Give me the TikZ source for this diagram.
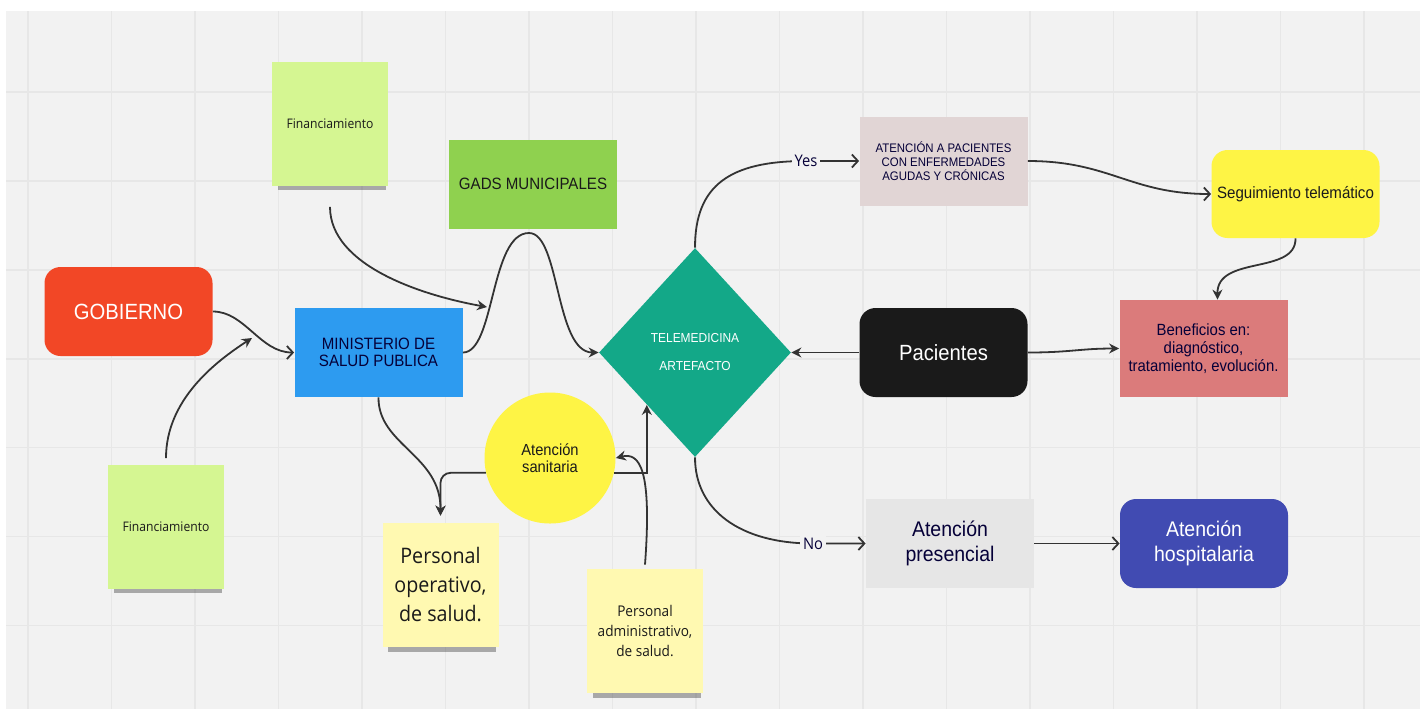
\documentclass[tikz,border=0pt]{standalone}
\usepackage{fontspec}
\setmainfont{Liberation Sans}[FakeStretch=0.92]
\newfontfamily\notefont{Open Sans}[FakeStretch=0.92]
\usetikzlibrary{shapes.geometric, arrows.meta, shadows, calc}

\definecolor{boardbg}{HTML}{F2F2F2}
\definecolor{gridgray}{HTML}{E7E7E7}
\definecolor{notegreen}{HTML}{D5F692}
\definecolor{noteyellow}{HTML}{FFF9B1}
\definecolor{gadsgreen}{HTML}{8FD14F}
\definecolor{gobred}{HTML}{F24726}
\definecolor{mspblue}{HTML}{2D9BF0}
\definecolor{teleteal}{HTML}{13A888}
\definecolor{agudaspink}{HTML}{E1D5D5}
\definecolor{brightyellow}{HTML}{FEF445}
\definecolor{pacblack}{HTML}{1A1A1A}
\definecolor{benefred}{HTML}{DB7B7B}
\definecolor{presgray}{HTML}{E6E6E6}
\definecolor{hospblue}{HTML}{414BB2}
\definecolor{inkblue}{HTML}{050038}
\definecolor{notetext}{HTML}{1A1A1A}
\definecolor{linegray}{HTML}{333333}

\begin{document}
\begin{tikzpicture}[x=0.5pt, y=-0.5pt,
    box/.style={rectangle, minimum width=84pt, minimum height=44.5pt, inner sep=2pt, align=center, text=inkblue},
    roundbox/.style={box, rounded corners=8pt},
    note/.style={rectangle, minimum width=58pt, minimum height=62pt, inner sep=2pt, align=center, text=notetext,
        drop shadow={shadow xshift=1pt, shadow yshift=-5pt, shadow scale=0.93, opacity=0.3, fill=black}},
    gridline/.style={draw=gridgray, line width=0.8pt},
    link/.style={draw=linegray, line width=0.9pt, -{Stealth[length=5pt, width=5pt]}},
    openlink/.style={draw=linegray, line width=0.9pt, -{Straight Barb[length=3pt, width=6.5pt]}},
    lbl/.style={fill=boardbg, inner sep=1.5pt, text=inkblue, font=\notefont\fontsize{8}{9}\selectfont}]

    \useasboundingbox (0,0) rectangle (1428,709);
    % board
    \fill [white] (0,0) rectangle (1428,709);
    \fill [boardbg] (6,11) rectangle (1420,709);
    \foreach \gx in {0,...,16}
        \draw [gridline] ({28+83.5*\gx},11) -- ({28+83.5*\gx},709);
    \foreach \gy in {0,...,6}
        \draw [gridline] (6,{92+88.9*\gy}) -- (1420,{92+88.9*\gy});

    % left side
    \node (fintop) [note, fill=notegreen, font=\notefont\fontsize{6.6}{8}\selectfont] at (330,123.5) {Financiamiento};
    \node (finbot) [note, fill=notegreen, font=\notefont\fontsize{6.6}{8}\selectfont] at (166,526.5) {Financiamiento};
    \node (gob) [roundbox, fill=gobred, text=white, font=\fontsize{11}{13}\selectfont] at (128.5,311.5) {GOBIERNO};
    \node (msp) [box, fill=mspblue, font=\fontsize{8.2}{8.8}\selectfont] at (378.5,352.5) {MINISTERIO DE\\SALUD PUBLICA};
    \node (gads) [box, fill=gadsgreen, text=notetext, font=\fontsize{8.2}{9}\selectfont] at (533,184) {GADS MUNICIPALES};
    \node (sanit) [circle, fill=brightyellow, minimum size=65.5pt, inner sep=0pt, align=center, text=notetext, font=\fontsize{8}{8.7}\selectfont] at (550,458) {Atención\\sanitaria};
    \node (peroper) [note, fill=noteyellow, font=\notefont\fontsize{10.7}{14.5}\selectfont] at (440.5,585) {Personal\\operativo,\\de salud.};
    \node (peradm) [note, fill=noteyellow, font=\notefont\fontsize{7.4}{10}\selectfont] at (645,631) {Personal\\administrativo,\\de salud.};

    % centre
    \node (tele) [diamond, fill=teleteal, minimum width=96pt, minimum height=104.5pt, inner sep=0pt, align=center, text=white, font=\fontsize{6.5}{14}\selectfont] at (695,352.5) {TELEMEDICINA\\ARTEFACTO};

    % right side
    \node (agudas) [box, fill=agudaspink, font=\fontsize{6.2}{6.9}\selectfont] at (943.5,161) {ATENCIÓN A PACIENTES\\CON ENFERMEDADES\\AGUDAS Y CRÓNICAS};
    \node (seguim) [roundbox, fill=brightyellow, minimum height=44pt, text=notetext, font=\fontsize{8.2}{9}\selectfont] at (1295.5,194) {Seguimiento telemático};
    \node (pac) [roundbox, fill=pacblack, text=white, font=\fontsize{11}{13}\selectfont] at (943.5,352.5) {Pacientes};
    \node (benef) [box, fill=benefred, minimum height=48.5pt, font=\fontsize{8.1}{9}\selectfont] at (1203.5,348.5) {Beneficios en:\\diagnóstico,\\tratamiento, evolución.};
    \node (presen) [box, fill=presgray, font=\fontsize{10.6}{12.5}\selectfont] at (950,543.5) {Atención\\presencial};
    \node (hosp) [roundbox, fill=hospblue, text=white, font=\fontsize{10.6}{12.5}\selectfont] at (1204,543.5) {Atención\\hospitalaria};

    \coordinate (gobjoin) at (252,338);
    \coordinate (gadsjoin) at (487,307);

    % connectors
    \draw [openlink] (gob.east) .. controls (245,311.5) and (260,352.5) .. (msp.west);
    \draw [link] ([yshift=3pt]finbot.north) .. controls (166,400) and (215,362) .. (gobjoin);
    \draw [link] ([yshift=-10.5pt]fintop.south) .. controls (330,265) and (420,295) .. (gadsjoin);
    \draw [link] (msp.east) .. controls (495,352.5) and (490,233) .. (529,233) .. controls (560,233) and (555,352.5) .. (tele.west);
    \draw [link] (msp.south) .. controls (378,445) and (441,455) .. ([yshift=3.5pt]peroper.north);
    \draw [link, rounded corners=5pt] (sanit.193) -| ([yshift=3.5pt]peroper.north);
    \draw [link] (sanit.-13) -| ($(tele.west)!0.5!(tele.south)$);
    \draw [link] ([yshift=2pt]peradm.north) .. controls (652,470) and (640,452) .. (sanit.east);
    \draw [openlink] (tele.north) .. controls (695,185) and (730,161) .. (806,161) node [lbl] {Yes} -- (agudas.west);
    \draw [openlink] (tele.south) .. controls (695,510) and (740,543.5) .. (813,543.5) node [lbl] {No} -- (presen.west);
    \draw [openlink] (agudas.east) .. controls (1110,161) and (1130,194) .. (seguim.west);
    \draw [link] (seguim.south) .. controls (1296,275) and (1217,255) .. ([xshift=7pt]benef.north);
    \draw [link] (pac.west) -- (tele.east);
    \draw [link] (pac.east) .. controls (1070,352.5) and (1080,348.5) .. (benef.west);
    \draw [openlink] (presen.east) -- (hosp.west);

\end{tikzpicture}
\end{document}
